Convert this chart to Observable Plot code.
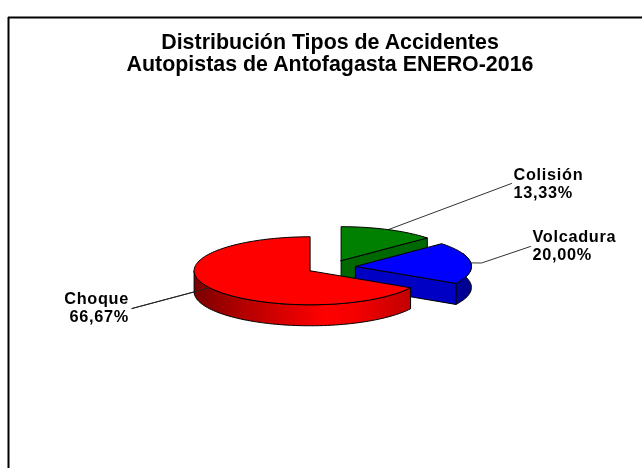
<!DOCTYPE html>
<html lang="es">
<head>
<meta charset="utf-8">
<script src="https://cdn.jsdelivr.net/npm/d3@7"></script>
<script src="https://cdn.jsdelivr.net/npm/@observablehq/plot@0.6"></script>
<style>
html,body{margin:0;padding:0;background:#fff;overflow:hidden}
svg{display:block;filter:blur(0.35px)}
.pie-label text{letter-spacing:0.7px}
</style>
</head>
<body>
<div id="chart"></div>
<script>
const titleLines = ["Distribución Tipos de Accidentes", "Autopistas de Antofagasta ENERO-2016"];
const categories = ["Colisión", "Volcadura", "Choque"];
const shares = [13.33, 20.00, 66.67];
const topColors = ["#008000", "#0000ff", "#ff0000"];
const cutColors = ["#006800", "#0000c4", "#a00000"];

// layout of the 3D pie, in pixels
const W = 642, H = 468, L = 8, T = 17;
const cx = 330.7, cy = 266.7, rx = 116, ry = 34, depth = 21, explode = 0.21;

let acc = 0;
const slices = categories.map((name, i) => {
  const a0 = acc / 100 * 360; acc += shares[i];
  const a1 = acc / 100 * 360; const mid = (a0 + a1) / 2;
  const rad = mid * Math.PI / 180;
  return {name, i, a0, a1, mid,
    ox: cx + explode * rx * Math.sin(rad),
    oy: cy - explode * ry * Math.cos(rad)};
});
const rim = (s, deg, d = 0) => {
  const r = deg * Math.PI / 180;
  return [s.ox + rx * Math.sin(r), s.oy - ry * Math.cos(r) + d];
};
const arc = (s, from, to, d = 0) => {
  const n = Math.max(2, Math.ceil(Math.abs(to - from) / 2));
  return d3.range(n + 1).map(k => rim(s, from + (to - from) * k / n, d));
};
const toRows = (id, pts, fill, stroke) =>
  pts.map(([x, y]) => ({id, x, y, fill, stroke}));
const apex = (s, d = 0) => [s.ox, s.oy + d];

const [green, blue, red] = slices;

const topFace = s => toRows("top" + s.i, [apex(s), ...arc(s, s.a0, s.a1), apex(s)], topColors[s.i], "#000");
const cutFace = (s, deg) => {
  const p = rim(s, deg);
  const q = rim(s, deg, depth);
  return toRows("cut" + s.i, [apex(s), p, q, apex(s, depth), apex(s)], cutColors[s.i], "#000");
};
const rimFace = (s, from, to, fill) =>
  toRows("rim" + s.i, [...arc(s, from, to), ...arc(s, to, from, depth), rim(s, from)], fill, "#000");

const gradient = (id, stops) => () => {
  const svg = d3.create("svg:defs");
  const g = svg.append("linearGradient").attr("id", id).attr("gradientUnits", "userSpaceOnUse")
    .attr("x1", stops[0][0]).attr("x2", stops[stops.length - 1][0]).attr("y1", 0).attr("y2", 0);
  const span = stops[stops.length - 1][0] - stops[0][0];
  stops.forEach(([x, c]) => g.append("stop").attr("offset", (x - stops[0][0]) / span).attr("stop-color", c));
  return svg.node();
};

const polyMark = rows => Plot.line(rows, {x: "x", y: "y", z: "id", fill: "fill", stroke: "stroke", strokeWidth: 1, curve: "linear", strokeLinejoin: "round"});

// leaders
const labelLayout = [
  {via: null, end: [511, 183], tx: 513, ty: 183},
  {via: [481, 262.5], end: [530, 246], tx: 532, ty: 245},
  {via: null, end: [131.5, 308], tx: 128.5, ty: 307}
];
const leaderRows = slices.flatMap((s, i) => {
  const l = labelLayout[i];
  const pts = [rim(s, s.mid), ...(l.via ? [l.via] : []), l.end];
  return pts.map(([x, y]) => ({i, x, y}));
});
const fmt = v => v.toFixed(2).replace(".", ",") + "%";
const labelRows = slices.map((s, i) => ({
  text: s.name + "\n" + fmt(shares[i]), x: labelLayout[i].tx, y: labelLayout[i].ty, side: i < 2 ? "start" : "end"
}));

const textStyle = {fontFamily: "'Liberation Sans', Arial, sans-serif", fontWeight: "bold", fill: "#000"};

const chart = Plot.plot({
  width: W, height: H,
  marginLeft: L, marginTop: T, marginRight: 0, marginBottom: 0,
  x: {domain: [L, W], range: [L, W], axis: null},
  y: {domain: [T, H], range: [T, H], axis: null},
  color: {type: "identity"},
  style: {background: "#fff"},
  marks: [
    gradient("redRim", [[194, "#7c0000"], [250, "#bb0000"], [325, "#ff0000"], [355, "#f40000"], [411, "#c00000"]]),
    gradient("blueRim", [[453, "#0000a4"], [471, "#00008a"]]),
    Plot.ruleX([L], {stroke: "#000", strokeWidth: 2}),
    Plot.ruleY([T], {stroke: "#000", strokeWidth: 2}),
    Plot.text(titleLines, {
      text: d => d, x: () => 329.5, y: (d, i) => 42 + i * 22,
      ...textStyle, fontSize: 21.4
    }),
    Plot.line(leaderRows, {x: "x", y: "y", z: "i", stroke: "#333", strokeWidth: 1}),
    polyMark(cutFace(green, green.a1)),
    polyMark(topFace(green)),
    polyMark(rimFace(blue, blue.a0 + 20, blue.a1, "url(#blueRim)")),
    polyMark(cutFace(blue, blue.a1)),
    polyMark(topFace(blue)),
    polyMark(rimFace(red, red.a0, 270, "url(#redRim)")),
    polyMark(topFace(red)),
    Plot.line(leaderRows.filter(d => d.i === 2), {x: "x", y: "y", z: "i", stroke: "#222", strokeWidth: 1}),
    Plot.text(labelRows.filter(d => d.side === "start"), {x: "x", y: "y", text: "text", textAnchor: "start", lineHeight: 1.1, className: "pie-label", ...textStyle, fontSize: 16.3}),
    Plot.text(labelRows.filter(d => d.side === "end"), {x: "x", y: "y", text: "text", textAnchor: "end", lineHeight: 1.1, className: "pie-label", ...textStyle, fontSize: 16.3})
  ]
});
document.getElementById("chart").append(chart);
</script>
</body>
</html>
